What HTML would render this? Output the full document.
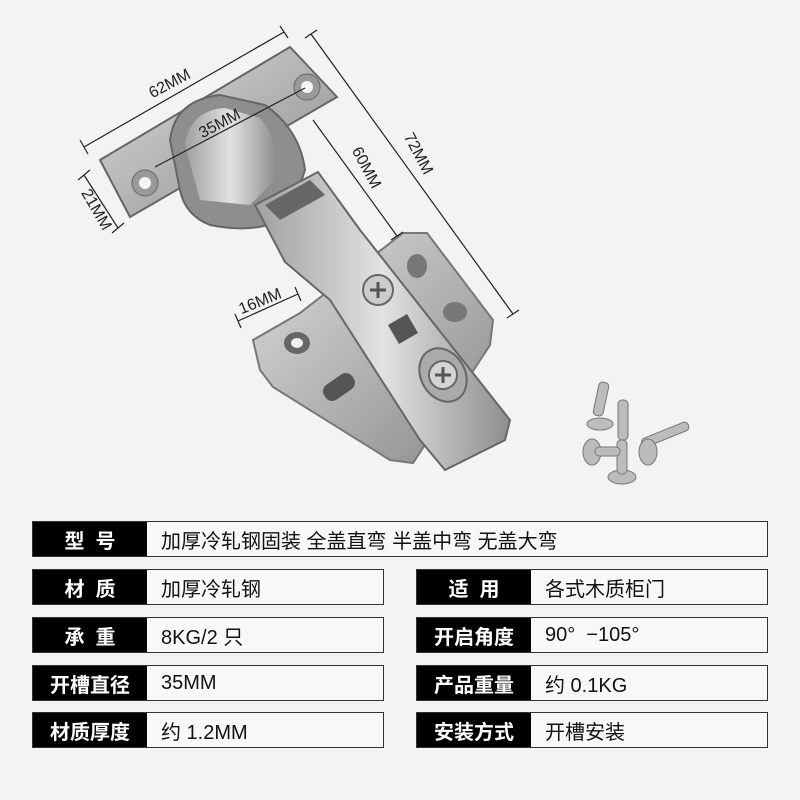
<!DOCTYPE html>
<html><head><meta charset="utf-8"><style>
html,body{margin:0;padding:0;}
body{width:800px;height:800px;background:#f3f3f3;position:relative;overflow:hidden;font-family:"Liberation Sans","Noto Sans CJK SC",sans-serif;}
.r{position:absolute;height:36px;box-sizing:border-box;border:1.5px solid #333;background:#f8f8f8;display:flex;}
.l{background:#000;color:#fff;font-size:20px;font-weight:bold;display:flex;align-items:center;justify-content:center;height:100%;flex:none;}
.v{font-size:20px;color:#111;display:flex;align-items:center;padding-left:14px;}
</style></head><body>
<svg width="800" height="500" style="position:absolute;left:0;top:0" font-family="Liberation Sans, sans-serif">
<defs>
<linearGradient id="m" x1="0" y1="0" x2="1" y2="1"><stop offset="0" stop-color="#dcdcdc"/><stop offset=".5" stop-color="#b4b4b4"/><stop offset="1" stop-color="#8a8a8a"/></linearGradient>
<linearGradient id="m2" x1="0" y1="0" x2="1" y2="0"><stop offset="0" stop-color="#a0a0a0"/><stop offset=".5" stop-color="#e2e2e2"/><stop offset="1" stop-color="#8e8e8e"/></linearGradient>
</defs>
<polygon points="253,340 300,313 403,233 427,233 493,320 490,345 413,463 390,460 273,387 260,370" fill="url(#m)" stroke="#777" stroke-width="2"/>
<ellipse cx="297" cy="343" rx="13" ry="11" fill="#666"/><ellipse cx="297" cy="343" rx="6" ry="5" fill="#eee"/>
<rect x="322" y="378" width="34" height="18" rx="8" transform="rotate(-35 339 387)" fill="#555"/>
<ellipse cx="417" cy="266" rx="10" ry="12" fill="#777"/>
<ellipse cx="455" cy="312" rx="12" ry="10" fill="#777"/>
<polygon points="100,160 290,47 337,97 130,217" fill="url(#m)" stroke="#666" stroke-width="2"/>
<circle cx="145" cy="183" r="13" fill="#999" stroke="#666"/><circle cx="145" cy="183" r="6" fill="#f4f4f4"/>
<circle cx="307" cy="87" r="13" fill="#999" stroke="#666"/><circle cx="307" cy="87" r="6" fill="#f4f4f4"/>
<path d="M170,140 Q175,100 220,95 L265,105 Q300,130 305,170 L290,215 Q260,235 210,225 Q185,215 180,190 Z" fill="#8e8e8e" stroke="#666" stroke-width="2"/>
<path d="M185,145 Q190,110 225,108 L260,118 Q280,140 275,180 L250,205 L200,200 Z" fill="url(#m2)"/>
<polygon points="255,205 318,172 360,230 510,420 505,440 445,470 420,440 330,300 285,262" fill="url(#m2)" stroke="#666" stroke-width="2"/>
<polygon points="265,205 310,180 325,195 280,220" fill="#666"/>
<circle cx="378" cy="290" r="15" fill="#ccc" stroke="#666" stroke-width="2"/>
<path d="M370,290 h16 M378,282 v16" stroke="#555" stroke-width="3"/>
<rect x="392" y="318" width="22" height="22" transform="rotate(-30 403 329)" fill="#555"/>
<ellipse cx="443" cy="375" rx="22" ry="28" transform="rotate(-30 443 375)" fill="#aaa" stroke="#666" stroke-width="2"/>
<circle cx="443" cy="375" r="14" fill="#d4d4d4" stroke="#666" stroke-width="2"/>
<path d="M435,375 h16 M443,367 v16" stroke="#555" stroke-width="3"/>
<g fill="#bcbcbc" stroke="#777">
<rect x="596" y="382" width="10" height="34" rx="4" transform="rotate(12 601 399)"/>
<ellipse cx="600" cy="424" rx="13" ry="6"/>
<rect x="618" y="400" width="10" height="40" rx="4"/>
<ellipse cx="622" cy="477" rx="14" ry="7"/>
<rect x="617" y="440" width="10" height="34" rx="4"/>
<rect x="640" y="430" width="50" height="9" rx="4" transform="rotate(-22 665 434)"/>
<ellipse cx="648" cy="452" rx="9" ry="13"/>
<ellipse cx="592" cy="452" rx="9" ry="13"/>
<rect x="595" y="447" width="25" height="9" rx="4"/>
</g>
<g stroke="#222" stroke-width="1.2" fill="none">
<line x1="84" y1="147" x2="284" y2="32"/><line x1="80" y1="140" x2="88" y2="154"/><line x1="280" y1="26" x2="288" y2="38"/>
<line x1="155" y1="167" x2="305" y2="88"/>
<line x1="84" y1="175" x2="118" y2="228"/><line x1="78" y1="180" x2="90" y2="170"/><line x1="112" y1="233" x2="124" y2="223"/>
<line x1="313" y1="120" x2="397" y2="236"/><line x1="391" y1="240" x2="403" y2="232"/>
<line x1="311" y1="34" x2="513" y2="314"/><line x1="305" y1="38" x2="317" y2="30"/><line x1="507" y1="318" x2="519" y2="310"/>
<line x1="238" y1="321" x2="298" y2="294"/><line x1="235" y1="314" x2="241" y2="328"/><line x1="295" y1="287" x2="301" y2="301"/>
</g>
<g font-size="16" fill="#222">
<text x="172" y="88" transform="rotate(-28 172 88)" text-anchor="middle">62MM</text>
<text x="222" y="128" transform="rotate(-28 222 128)" text-anchor="middle">35MM</text>
<text x="92" y="212" transform="rotate(60 92 212)" text-anchor="middle">21MM</text>
<text x="362" y="170" transform="rotate(62 362 170)" text-anchor="middle">60MM</text>
<text x="414" y="156" transform="rotate(62 414 156)" text-anchor="middle">72MM</text>
<text x="262" y="306" transform="rotate(-22 262 306)" text-anchor="middle">16MM</text>
</g>
</svg>

<div class="r" style="left:32px;top:521px;width:736px"><div class="l" style="width:114px">型&nbsp;&nbsp;号</div><div class="v">加厚冷轧钢固装 全盖直弯 半盖中弯 无盖大弯</div></div>

<div class="r" style="left:32px;top:569px;width:352px"><div class="l" style="width:114px">材&nbsp;&nbsp;质</div><div class="v">加厚冷轧钢</div></div>
<div class="r" style="left:32px;top:617px;width:352px"><div class="l" style="width:114px">承&nbsp;&nbsp;重</div><div class="v">8KG/2 只</div></div>
<div class="r" style="left:32px;top:665px;width:352px"><div class="l" style="width:114px">开槽直径</div><div class="v">35MM</div></div>
<div class="r" style="left:32px;top:712px;width:352px"><div class="l" style="width:114px">材质厚度</div><div class="v">约 1.2MM</div></div>

<div class="r" style="left:416px;top:569px;width:352px"><div class="l" style="width:114px">适&nbsp;&nbsp;用</div><div class="v">各式木质柜门</div></div>
<div class="r" style="left:416px;top:617px;width:352px"><div class="l" style="width:114px">开启角度</div><div class="v">90°&nbsp;&nbsp;−105°</div></div>
<div class="r" style="left:416px;top:665px;width:352px"><div class="l" style="width:114px">产品重量</div><div class="v">约 0.1KG</div></div>
<div class="r" style="left:416px;top:712px;width:352px"><div class="l" style="width:114px">安装方式</div><div class="v">开槽安装</div></div>
</body></html>
